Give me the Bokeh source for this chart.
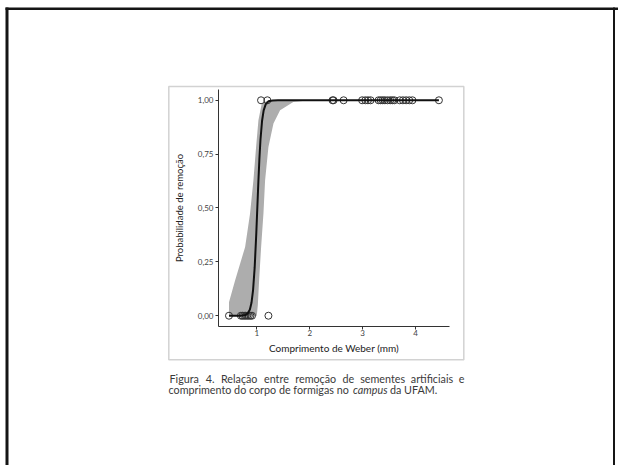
from bokeh.plotting import figure
from bokeh.models import Range1d, FixedTicker, Label, BoxAnnotation
from bokeh.embed import file_html
from bokeh.resources import INLINE

# ---- data ----
x_removed0 = [0.475, 0.70, 0.73, 0.76, 0.79, 0.82, 0.85, 0.88, 0.91, 1.22]
y_removed0 = [0, 0, 0, 0, 0, 0, 0, 0, 0, 0]
x_removed1 = [1.08, 1.20, 2.43, 2.45, 2.64, 2.99, 3.05, 3.10, 3.15, 3.30, 3.34, 3.38,
              3.42, 3.47, 3.52, 3.56, 3.60, 3.70, 3.76, 3.82, 3.88, 3.94, 4.44]
y_removed1 = [1] * 23

curve_x = [0.475, 0.60, 0.70, 0.78, 0.83, 0.87, 0.90, 0.93, 0.96, 0.99, 1.01, 1.03,
           1.05, 1.07, 1.10, 1.13, 1.17, 1.22, 1.30, 1.40, 4.44]
curve_p = [0.0, 0.0, 0.0004, 0.003, 0.011, 0.029, 0.060, 0.119, 0.223, 0.378, 0.50, 0.622,
           0.731, 0.818, 0.905, 0.953, 0.982, 0.995, 0.999, 1.0, 1.0]

band_upper_x = [0.475, 0.59, 0.78, 0.873, 0.936, 0.987, 1.031, 1.094, 1.20, 1.40, 2.0]
band_upper_p = [0.063, 0.164, 0.319, 0.474, 0.628, 0.783, 0.907, 0.985, 0.998, 1.0, 1.0]
band_lower_x = [0.475, 1.0, 1.02, 1.044, 1.082, 1.126, 1.157, 1.22, 1.315, 1.44, 1.69, 2.0]
band_lower_p = [0.0, 0.0, 0.05, 0.164, 0.319, 0.474, 0.628, 0.783, 0.892, 0.954, 0.992, 1.0]

x_ticks = [1, 2, 3, 4]
x_tick_labels = ["1", "2", "3", "4"]
y_ticks = [0, 0.25, 0.5, 0.75, 1]
y_tick_labels = ["0,00", "0,25", "0,50", "0,75", "1,00"]
x_axis_bounds = (0.277, 4.64)
y_axis_bounds = (-0.05, 1.05)

x_title = "Comprimento de Weber (mm)"
y_title = "Probabilidade de remoção"
caption_1_words = ["Figura", "4.", "Relação", "entre", "remoção", "de", "sementes",
                   "artificiais", "e"]
caption_2a = "comprimento do corpo de formigas no"
caption_2b = "campus"
caption_2c = "da UFAM."

FONT = "Lato"
W, H = 618, 465

# the frame covers the whole canvas; the data panel sits inside it
p = figure(width=W, height=H, output_backend="svg", toolbar_location=None,
           x_range=Range1d(-3.8405, 7.832), y_range=Range1d(-0.69516, 1.46309),
           min_border=0, min_border_left=0, min_border_right=0,
           min_border_top=0, min_border_bottom=0)
p.outline_line_color = None
p.grid.visible = False
p.background_fill_color = "white"
p.border_fill_color = "white"

xa = p.xaxis[0]
ya = p.yaxis[0]
xa.fixed_location = y_axis_bounds[0]
ya.fixed_location = x_axis_bounds[0]
xa.bounds = x_axis_bounds
ya.bounds = y_axis_bounds

for ax in (xa, ya):
    ax.axis_line_color = "#333333"
    ax.axis_line_width = 1
    ax.major_tick_line_color = "#333333"
    ax.major_tick_out = 3
    ax.major_tick_in = 0
    ax.minor_tick_out = 0
    ax.minor_tick_in = 0
    ax.major_label_text_font = FONT
    ax.major_label_text_font_size = "8px"
    ax.major_label_text_color = "#444444"
    ax.axis_label_text_font = FONT
    ax.axis_label_text_font_style = "normal"
    ax.axis_label_text_color = "#222222"

xa.ticker = FixedTicker(ticks=x_ticks)
xa.major_label_overrides = dict(zip(x_ticks, x_tick_labels))
ya.ticker = FixedTicker(ticks=y_ticks)
ya.major_label_overrides = dict(zip(y_ticks, y_tick_labels))
xa.axis_label = x_title
ya.axis_label = y_title
xa.axis_label_text_font_size = "10px"
ya.axis_label_text_font_size = "9.5px"
xa.major_label_standoff = 1
xa.axis_label_standoff = 2
ya.major_label_standoff = 2
ya.axis_label_standoff = 10

band_x = band_upper_x + band_lower_x[::-1]
band_y = band_upper_p + band_lower_p[::-1]
p.patch(band_x, band_y, fill_color="#adadad", line_color=None)

p.scatter(x_removed0 + x_removed1, y_removed0 + y_removed1, marker="circle", size=7,
          fill_color=None, line_color="#333333", line_width=1)
p.line(curve_x, curve_p, line_color="#111111", line_width=2)

# page decorations, in screen pixels (origin bottom-left of the canvas)
def box(l, r, b, t, **kw):
    p.add_layout(BoxAnnotation(left=l, right=r, bottom=b, top=t,
                               left_units="screen", right_units="screen",
                               bottom_units="screen", top_units="screen", **kw))

box(168.3, 463.3, H - 359.3, H - 86, fill_color=None, fill_alpha=0,
    line_color="#6a6a6a", line_width=1.5)
box(5, 618, H - 9.5, H - 7, fill_color="#151515", fill_alpha=1, line_color=None)
box(5, 8, -5, H - 7, fill_color="#151515", fill_alpha=1, line_color=None)
box(612.5, 614.5, -5, H - 7, fill_color="#151515", fill_alpha=1, line_color=None)

cap_kw = dict(x_units="screen", y_units="screen", text_font=FONT,
              text_font_size="10.75px", text_color="#3a3a3a", text_baseline="middle")

# justified first caption line: word anchors (x, align)
line1_anchor = [(169, "left"), (209.6, "center"), (238.7, "center"), (275.9, "center"),
                (315.2, "center"), (347.9, "center"), (382.1, "center"),
                (431.5, "center"), (464, "right")]
for word, (wx, al) in zip(caption_1_words, line1_anchor):
    p.add_layout(Label(x=wx, y=H - 378, text=word, text_align=al, **cap_kw))

p.add_layout(Label(x=168, y=H - 389, text=caption_2a, **cap_kw))
p.add_layout(Label(x=352.5, y=H - 389, text=caption_2b, text_font_style="italic", **cap_kw))
p.add_layout(Label(x=389.5, y=H - 389, text=caption_2c, **cap_kw))

open("out.html", "w").write(file_html(p, INLINE))
